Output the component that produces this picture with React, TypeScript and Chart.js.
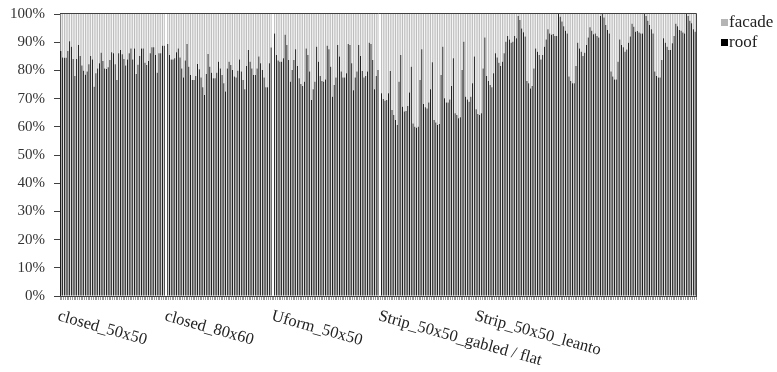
import React, { useEffect, useRef } from 'react';
import { Chart, registerables } from 'chart.js';

Chart.register(...registerables);

// roof share (%) per building variant; facade = 100 - roof
const closed50x50 = [
  86.9, 84.6, 84.5, 84.5, 86.9, 90.3, 88.4, 84.0, 78.0, 84.0,
  89.0, 85.1, 81.7, 79.9, 78.5, 79.6, 82.2, 85.1, 83.9, 74.2,
  79.0, 80.7, 82.5, 86.3, 83.3, 80.7, 80.5, 81.1, 83.7, 86.4,
  86.1, 82.2, 76.6, 86.1, 87.2, 85.7, 84.0, 81.7, 83.9, 86.1,
  87.8, 83.9, 87.8, 78.7, 82.0, 85.1, 87.8, 87.8, 82.7, 81.9,
  83.3, 86.1, 88.2, 88.2, 85.5, 79.2, 86.1, 86.1, 88.7, 88.7,
];

const closed80x60 = [
  89.4, 85.5, 83.9, 83.9, 84.3, 86.4, 87.8, 84.6, 80.7, 77.5,
  83.5, 89.4, 81.3, 78.4, 76.6, 76.6, 78.0, 82.3, 80.4, 77.5,
  74.0, 71.3, 78.7, 85.8, 81.3, 79.2, 77.2, 77.2, 79.2, 83.1,
  80.7, 78.4, 75.4, 72.5, 80.7, 83.1, 81.9, 80.1, 77.8, 77.5,
  79.9, 83.9, 79.6, 76.6, 73.3, 81.6, 87.2, 83.1, 80.7, 78.4,
  78.4, 80.7, 84.9, 82.5, 80.1, 77.5, 74.0, 74.0, 82.5, 88.1,
];

const uform50x50 = [
  93.1, 85.5, 83.5, 83.1, 83.1, 84.3, 92.6, 89.0, 83.7, 76.0,
  80.1, 83.7, 87.5, 81.6, 77.2, 75.2, 74.5, 76.0, 87.8, 85.5,
  79.6, 69.5, 73.3, 76.0, 88.4, 83.1, 78.0, 76.2, 76.0, 76.8,
  88.7, 87.5, 81.3, 70.7, 74.8, 77.5, 89.0, 84.9, 79.6, 77.5,
  77.5, 79.0, 89.4, 89.0, 82.5, 73.0, 77.5, 79.6, 89.0, 85.1,
  79.8, 77.5, 78.0, 79.6, 89.8, 89.4, 83.7, 73.3, 78.0, 80.1,
];

const strip50x50 = [
  71.9, 69.9, 69.2, 69.5, 71.9, 79.8,
  66.0, 64.2, 62.4, 60.6, 76.0, 85.5,
  67.1, 65.4, 65.6, 67.4, 72.2, 81.3,
  61.2, 60.0, 59.7, 60.0, 76.6, 87.5,
  68.1, 66.9, 66.5, 68.6, 73.3, 82.9,
  62.4, 61.5, 60.6, 61.0, 78.4, 88.4,
  70.1, 68.6, 68.6, 69.7, 74.5, 84.3,
  64.8, 64.2, 63.0, 63.4, 80.1, 90.2,
  70.7, 69.7, 68.9, 70.7, 75.4, 84.9,
  66.2, 64.5, 64.2, 64.8, 80.7, 91.7,
  78.0, 76.2, 74.8, 74.0,
  79.0, 86.1, 84.6, 82.7, 81.6, 83.1, 86.1, 90.2, 92.2, 91.0, 89.8, 90.2, 92.2, 91.4,
  99.3, 97.9, 94.9, 93.5, 92.0,
  76.2, 75.4, 73.6, 74.5, 80.7, 87.8, 86.6, 85.5, 83.9, 85.5, 88.4, 91.0, 94.6, 93.1, 92.6, 92.9, 92.2, 92.2,
  100, 99.0, 97.3, 95.7, 94.1, 93.1, 77.8, 76.2, 75.4, 75.4, 81.6, 89.8, 87.8, 86.6, 85.1, 86.3, 89.0, 91.7, 95.3, 94.1, 92.8, 93.1, 92.2, 91.7,
  99.3, 100, 98.8, 96.1, 94.3, 93.1, 79.6, 77.8, 76.8, 76.8, 83.1, 91.0, 89.0, 88.2, 86.6, 87.4, 89.8, 92.0, 96.5, 95.5, 93.7, 94.0, 93.4, 93.1, 93.1,
  100, 99.3, 97.6, 96.1, 94.6, 93.1, 79.6, 78.0, 77.5, 77.5, 83.7, 91.4, 89.8, 88.4, 87.2, 87.2, 89.6, 92.2, 96.5, 95.7, 94.3, 94.1, 93.4, 93.1,
  100, 99.3, 97.6, 96.7, 94.6, 93.7,
];

const groupNames = ['closed_50x50', 'closed_80x60', 'Uform_50x50', 'Strip_50x50_gabled / flat'];
const leantoName = 'Strip_50x50_leanto';
const leantoOffset = 55; // category within the strip series where its label sits
const yTicks = [0, 10, 20, 30, 40, 50, 60, 70, 80, 90, 100];
const seriesNames = ['roof', 'facade'];

const FONT = '"Liberation Serif", "Times New Roman", serif';
const FACADE = '#b4b4b4';
const ROOF = '#000000';
const AXIS = '#404040';

function buildData() {
  const groups = [closed50x50, closed80x60, uform50x50, strip50x50];
  const labels: string[] = [];
  const roof: (number | null)[] = [];
  const facade: (number | null)[] = [];
  groups.forEach((g, gi) => {
    if (gi > 0) {
      labels.push('');
      roof.push(null);
      facade.push(null);
    }
    g.forEach((v, i) => {
      let lab = i === 0 ? groupNames[gi] : '';
      if (gi === 3 && i === leantoOffset) lab = leantoName;
      labels.push(lab);
      roof.push(v);
      facade.push(Math.round((100 - v) * 10) / 10);
    });
  });
  return { labels, roof, facade };
}

export default function App() {
  const ref = useRef<HTMLCanvasElement>(null);

  useEffect(() => {
    const canvas = ref.current;
    if (!canvas) return;
    const { labels, roof, facade } = buildData();

    const decor = {
      id: 'decor',
      afterDraw(chart: any) {
        const ctx = chart.ctx as CanvasRenderingContext2D;
        const { left, top, right } = chart.chartArea;
        ctx.save();
        // plot frame (top + right)
        ctx.strokeStyle = AXIS;
        ctx.lineWidth = 1;
        ctx.beginPath();
        ctx.moveTo(left, Math.round(top) - 0.5);
        ctx.lineTo(Math.round(right) + 0.5, Math.round(top) - 0.5);
        ctx.lineTo(Math.round(right) + 0.5, chart.chartArea.bottom);
        ctx.stroke();

        // rotated category labels
        const xs = chart.scales.x;
        ctx.font = '16.5px ' + FONT;
        ctx.fillStyle = '#222';
        ctx.textAlign = 'left';
        ctx.textBaseline = 'top';
        labels.forEach((lab, i) => {
          if (!lab) return;
          const x = xs.getPixelForValue(i) - 0.5;
          ctx.save();
          ctx.translate(x, 308);
          ctx.rotate((15.5 * Math.PI) / 180);
          ctx.fillText(lab, 0, 0);
          ctx.restore();
        });

        // legend
        ctx.font = '17px ' + FONT;
        ctx.textBaseline = 'alphabetic';
        const items = [
          { name: seriesNames[1], color: FACADE, y: 19 },
          { name: seriesNames[0], color: ROOF, y: 39 },
        ];
        items.forEach((it) => {
          ctx.fillStyle = it.color;
          ctx.fillRect(721, it.y, 7, 7);
          ctx.fillStyle = '#222';
          ctx.fillText(it.name, 729, it.y + 8);
        });
        ctx.restore();
      },
    };

    const chart = new Chart(canvas, {
      type: 'bar',
      data: {
        labels,
        datasets: [
          {
            label: seriesNames[0],
            data: roof,
            backgroundColor: ROOF,
            borderWidth: 0,
            barPercentage: 0.5,
            categoryPercentage: 1,
          },
          {
            label: seriesNames[1],
            data: facade,
            backgroundColor: FACADE,
            borderWidth: 0,
            barPercentage: 0.5,
            categoryPercentage: 1,
          },
        ],
      },
      options: {
        responsive: false,
        animation: false,
        devicePixelRatio: 1,
        layout: { padding: { top: 14, right: 81, left: 0, bottom: 0 } },
        plugins: {
          legend: { display: false },
          tooltip: { enabled: false },
        },
        scales: {
          x: {
            stacked: true,
            grid: {
              display: true,
              drawOnChartArea: false,
              drawTicks: true,
              tickLength: 4,
              color: '#9a9a9a',
            },
            border: { display: true, color: AXIS, width: 1 },
            ticks: { display: false },
            afterFit: (scale: any) => {
              scale.height = 76;
              scale.paddingLeft = 0;
              scale.paddingRight = 0;
            },
          },
          y: {
            stacked: true,
            min: 0,
            max: 100,
            afterBuildTicks: (scale: any) => {
              scale.ticks = yTicks.map((v) => ({ value: v }));
            },
            grid: {
              display: true,
              drawOnChartArea: false,
              drawTicks: true,
              tickLength: 6,
              color: AXIS,
            },
            border: { display: true, color: AXIS, width: 1 },
            ticks: {
              padding: 9,
              color: '#333',
              font: { family: FONT, size: 15 },
              callback: (v: any) => v + '%',
            },
            afterFit: (scale: any) => {
              scale.width = 60;
              scale.paddingTop = 0;
              scale.paddingBottom = 0;
            },
          },
        },
      },
      plugins: [decor],
    } as any);

    return () => chart.destroy();
  }, []);

  return (
    <div style={{ position: 'absolute', left: 0, top: 0, width: 777, height: 372, background: '#fff' }}>
      <canvas ref={ref} width={777} height={372} style={{ display: 'block' }} />
    </div>
  );
}
